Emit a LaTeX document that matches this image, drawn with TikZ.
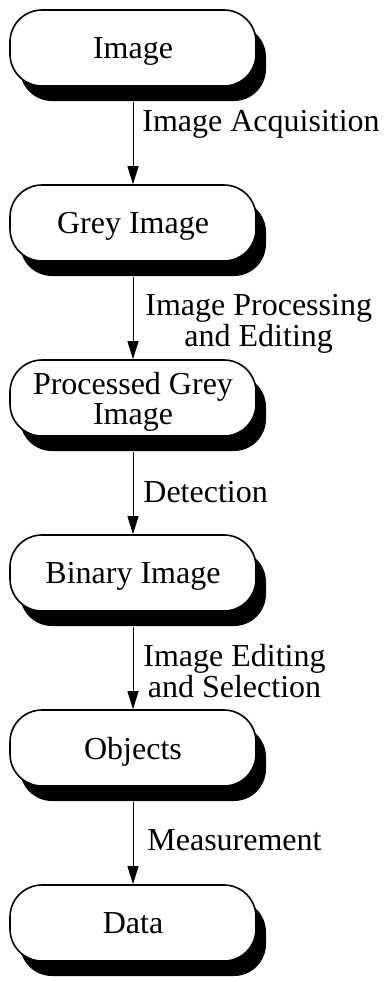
\documentclass[tikz,border=0pt]{standalone}
\usepackage{fontspec}
\setmainfont{Liberation Serif}
\usepackage{tikz}
\usetikzlibrary{arrows.meta}
\usetikzlibrary{shadows}

\begin{document}
\begin{tikzpicture}[x=0.5pt, y=-0.5pt,
		stage/.style={draw=black, line width=0.8pt, fill=white, rounded corners=16pt,
			minimum width=123pt, minimum height=38pt, inner sep=0pt, align=center,
			font=\fontsize{16}{12.5}\selectfont, text depth=0pt,
			drop shadow={shadow xshift=5pt, shadow yshift=-7.5pt, fill=black, opacity=1}},
		steplabel/.style={anchor=west, align=center, inner sep=0pt,
			font=\fontsize{16}{12.5}\selectfont, text depth=0pt},
		flow/.style={line width=0.5pt, -{Triangle[length=9pt, width=5.5pt]}}]
				\useasboundingbox (0,0) rectangle (389,982);

				%Nodes
				\node[stage] (img)  at (133,48)  {Image};
				\node[stage] (grey) at (133,223) {Grey Image};
				\node[stage] (proc) at (133,398) {Processed Grey\\Image};
				\node[stage] (bin)  at (133,573) {Binary Image};
				\node[stage] (obj)  at (133,748) {Objects};
				\node[stage] (data) at (133,923) {Data};

				%Labels
				\node[steplabel] (lacq)  at (142,121) {Image Acquisition};
				\node[steplabel] (lproc) at (145,320) {Image Processing\\and Editing};
				\node[steplabel] (ldet)  at (143,492) {Detection};
				\node[steplabel] (ledit) at (143,671) {Image Editing\\and Selection};
				\node[steplabel] (lmeas) at (147,840) {Measurement};

				%Lines
				\draw[flow] ([yshift=-7.5pt]img.south)  -- (grey.north);
				\draw[flow] ([yshift=-7.5pt]grey.south) -- (proc.north);
				\draw[flow] ([yshift=-7.5pt]proc.south) -- (bin.north);
				\draw[flow] ([yshift=-7.5pt]bin.south)  -- (obj.north);
				\draw[flow] ([yshift=-7.5pt]obj.south)  -- (data.north);

		\end{tikzpicture}
\end{document}
